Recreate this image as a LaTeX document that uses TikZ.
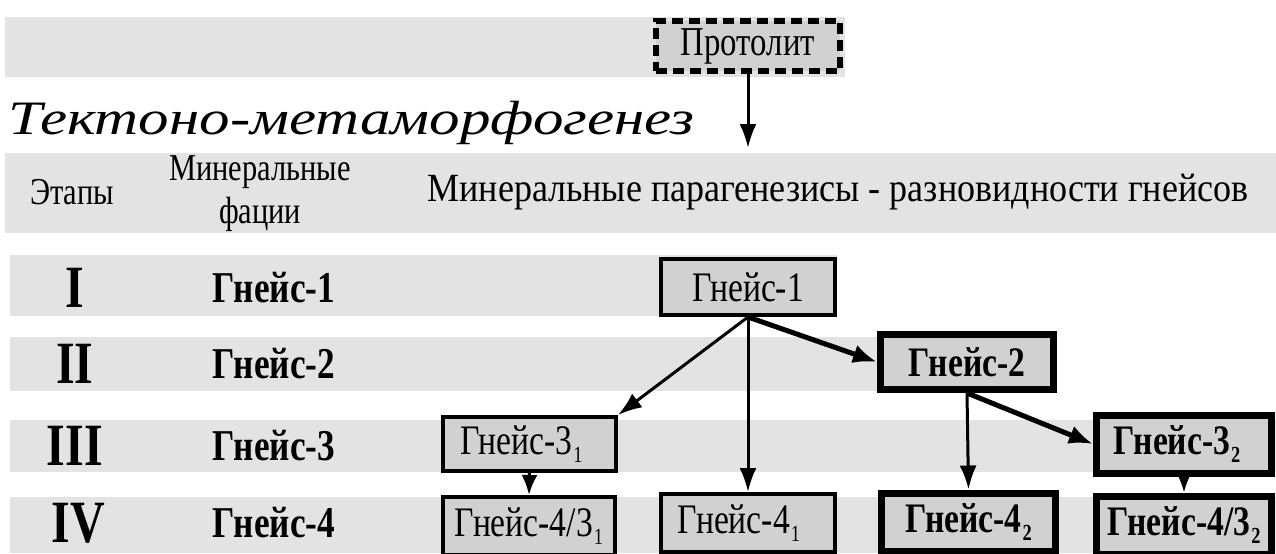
\documentclass[tikz,border=0pt]{standalone}
\usepackage{fontspec}
\setmainfont{Liberation Serif}[FakeStretch=0.8]
\newfontfamily\widefont{Liberation Serif}[FakeStretch=0.9]
\newfontfamily\titlefont{Liberation Serif}[FakeStretch=1.27]
\usetikzlibrary{arrows.meta}

\definecolor{bandfill}{gray}{0.89}
\definecolor{boxfill}{gray}{0.82}

% нижний индекс в подписях гнейсов
\newcommand{\ix}[1]{\kern0.5pt\raisebox{-0.4ex}{\fontsize{11.5}{12}\selectfont #1}}

\tikzset{
  band/.style={fill=bandfill},
  head/.style={font=\fontsize{19}{21.5}\selectfont, inner sep=0pt},
  stage/.style={font=\fontsize{30}{30}\selectfont\bfseries, inner sep=0pt},
  facies/.style={font=\fontsize{22}{24}\selectfont\bfseries, inner sep=0pt},
  gneiss/.style={draw, fill=boxfill, line width=2pt, inner sep=0pt,
    minimum width=87pt, minimum height=28pt, font=\fontsize{21}{24}\selectfont},
  gneissB/.style={gneiss, line width=3.5pt, font=\fontsize{21}{24}\selectfont\bfseries},
  arr/.style={-{Latex[length=12pt,width=8.5pt]}, line width=1.5pt},
  arrB/.style={-{Latex[length=12pt,width=9.5pt]}, line width=2.5pt},
  arrS/.style={-{Latex[length=10pt,width=8pt]}, line width=1.5pt},
}

\begin{document}
\begin{tikzpicture}[x=0.5pt, y=-0.5pt]
    % 1. Рамка рисунка
    \clip (0,0) rectangle (1276,553);

    % 2. Серые полосы таблицы
    \fill[band] (5,17) rectangle (845,77);
    \fill[band] (5,153) rectangle (1276,233);
    \fill[band] (10,255) rectangle (837,316);
    \fill[band] (10,337) rectangle (960,391);
    \fill[band] (10,420) rectangle (1276,472);
    \fill[band] (10,497) rectangle (1276,553);

    % 3. Заголовки
    \node[anchor=base west, inner sep=0pt,
          font=\titlefont\itshape\fontsize{24}{26}\selectfont] (title) at (8,134)
        {Тектоно-метаморфогенез};
    \node[head] (hst) at (72,192) {Этапы};
    \node[head, align=center] (hfc) at (260,194) {Минеральные\\фации};
    \node[head, font=\widefont\fontsize{20}{22}\selectfont] (hpar) at (838,192)
        {Минеральные парагенезисы - разновидности гнейсов};

    % 4. Этапы и минеральные фации
    \node[stage] (st1) at (75,288) {I};
    \node[stage] (st2) at (75,364) {II};
    \node[stage] (st3) at (75,446) {III};
    \node[stage] (st4) at (78,523) {IV};
    \node[facies] (fc1) at (274,288) {Гнейс-1};
    \node[facies] (fc2) at (274,364) {Гнейс-2};
    \node[facies] (fc3) at (274,446) {Гнейс-3};
    \node[facies] (fc4) at (274,523) {Гнейс-4};

    % 5. Протолит и разновидности гнейсов
    \node[gneiss, line width=3pt, dash pattern=on 5.5pt off 3pt,
          minimum width=92pt, minimum height=25pt,
          font=\fontsize{20.5}{22}\selectfont] (proto) at (748,46) {Протолит};
    \coordinate (hd) at (748,148);

    \node[gneiss] (g1) at (748,287) {Гнейс-1};
    \node[gneissB, minimum width=86.5pt, minimum height=27.5pt] (g2) at (967,362) {Гнейс-2};
    \node[gneiss, minimum width=86.5pt, minimum height=27pt] (g31) at (529.5,444) {Гнейс-3\ix{1}\kern8pt};
    \node[gneissB, minimum width=87.5pt, minimum height=29pt] (g32) at (1184,444) {Гнейс-3\ix{2}\kern7pt};
    \node[gneiss, minimum width=86pt, minimum height=29pt] (g431) at (529,526) {Гнейс-4/3\ix{1}};
    \node[gneiss, minimum width=87pt, minimum height=29pt] (g41) at (748,523) {Гнейс-4\ix{1}\kern9pt};
    \node[gneissB, minimum width=87pt, minimum height=29pt] (g42) at (968.5,522) {Гнейс-4\ix{2}};
    \node[gneissB, minimum width=87.5pt, minimum height=29pt] (g432) at (1184,525) {Гнейс-4/3\ix{2}};

    % 6. Стрелки
    \draw[arr] (proto.south) -- (hd);
    \draw[arr] (g1.south) -- (g31.north east);
    \draw[arr] (g1.south) -- (g41.north);
    \draw[arrB] (g1.south) -- (g2.west);
    \draw[arr] (g2.south) -- (g42.north);
    \draw[arrB] (g2.south) -- (g32.west);
    \draw[arrS] (g31.south) -- (g431.north);
    \draw[arrS] (g32.south) -- (g432.north);
\end{tikzpicture}
\end{document}
